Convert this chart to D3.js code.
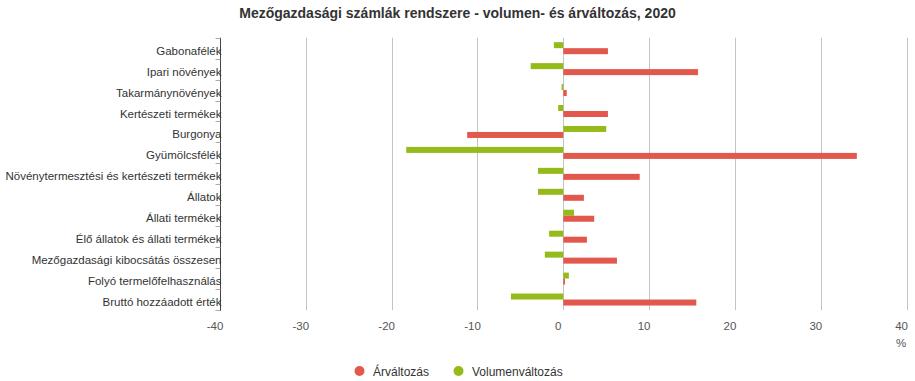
<!DOCTYPE html>
<html><head><meta charset="utf-8">
<script src="https://cdn.jsdelivr.net/npm/d3@7"></script>
<style>
html,body{margin:0;padding:0;background:#fff;}
svg{display:block;font-family:"Liberation Sans",Arial,sans-serif;}
</style></head>
<body><svg id="c" width="915" height="381"></svg>
<script>
const title = "Mezőgazdasági számlák rendszere - volumen- és árváltozás, 2020";
const categories = ["Gabonafélék","Ipari növények","Takarmánynövények","Kertészeti termékek","Burgonya","Gyümölcsfélék","Növénytermesztési és kertészeti termékek","Állatok","Állati termékek","Élő állatok és állati termékek","Mezőgazdasági kibocsátás összesen","Folyó termelőfelhasználás","Bruttó hozzáadott érték"];
const arValtozas = [5.2, 15.7, 0.4, 5.2, -11.2, 34.2, 8.9, 2.4, 3.6, 2.75, 6.25, 0.2, 15.5];
const volumenValtozas = [-1.1, -3.8, -0.2, -0.6, 5.0, -18.3, -2.95, -2.95, 1.25, -1.65, -2.15, 0.65, -6.1];
const xTicks = [-40, -30, -20, -10, 0, 10, 20, 30, 40];
const unitLabel = "%";
const seriesNames = ["Árváltozás", "Volumenváltozás"];
const seriesColors = ["#e2584d", "#95bb1a"];

const svg = d3.select("#c");
const x = d3.scaleLinear().domain([-40, 40]).range([220, 906.6]);
const y = d3.scaleBand().domain(categories).range([37.7, 310]);
const sub = d3.scaleBand().domain(["vol", "ar"]).range([0, 12]);

// title
svg.append("text").attr("x", 457.5).attr("y", 18).attr("text-anchor", "middle")
  .attr("font-size", 14).attr("font-weight", "bold").attr("fill", "#333").text(title);

// gridlines
svg.append("g").selectAll("line").data(xTicks).join("line")
  .attr("x1", d => Math.round(x(d)) + 0.5).attr("x2", d => Math.round(x(d)) + 0.5)
  .attr("y1", 37.7).attr("y2", 310).attr("stroke", "#c4c4c4").attr("stroke-width", 1);

// x labels
svg.append("g").selectAll("text").data(xTicks).join("text")
  .attr("x", d => x(d) - 5).attr("y", 330).attr("text-anchor", "middle")
  .attr("font-size", 11.5).attr("fill", "#555").text(d => d);
svg.append("text").attr("x", 901).attr("y", 347).attr("text-anchor", "middle")
  .attr("font-size", 11.5).attr("fill", "#555").text(unitLabel);

// bars
const gBars = svg.append("g");
categories.forEach((c, i) => {
  const yc = y(c) + y.bandwidth() / 2 - 6;
  const v = volumenValtozas[i], a = arValtozas[i];
  gBars.append("rect").attr("x", x(Math.min(0, v))).attr("width", Math.abs(x(v) - x(0)))
    .attr("y", yc + sub("vol")).attr("height", sub.bandwidth()).attr("fill", seriesColors[1]);
  gBars.append("rect").attr("x", x(Math.min(0, a))).attr("width", Math.abs(x(a) - x(0)))
    .attr("y", yc + sub("ar")).attr("height", sub.bandwidth()).attr("fill", seriesColors[0]);
});

// y axis
const yAxisX = Math.round(x(-40)) + 0.5;
svg.append("line").attr("x1", yAxisX).attr("x2", yAxisX).attr("y1", 37.7).attr("y2", 311)
  .attr("stroke", "#444").attr("stroke-width", 1);
const tickYs = categories.map(c => y(c)).concat([y.range()[1]]);
svg.append("g").selectAll("line").data(tickYs).join("line")
  .attr("x1", yAxisX - 5).attr("x2", yAxisX).attr("y1", d => Math.round(d) + 0.5).attr("y2", d => Math.round(d) + 0.5)
  .attr("stroke", "#aaa");
svg.append("g").selectAll("text").data(categories).join("text")
  .attr("x", yAxisX + 1).attr("y", c => y(c) + y.bandwidth() / 2 + 6.5)
  .attr("text-anchor", "end").attr("font-size", 11.5).attr("fill", "#333").text(c => c);

// legend
const legend = [{n: seriesNames[0], c: seriesColors[0], cx: 359.5, tx: 373},
                {n: seriesNames[1], c: seriesColors[1], cx: 458.5, tx: 472}];
legend.forEach(l => {
  svg.append("circle").attr("cx", l.cx).attr("cy", 371).attr("r", 5).attr("fill", l.c);
  svg.append("text").attr("x", l.tx).attr("y", 375.5).attr("font-size", 12).attr("fill", "#333").text(l.n);
});
</script></body></html>
